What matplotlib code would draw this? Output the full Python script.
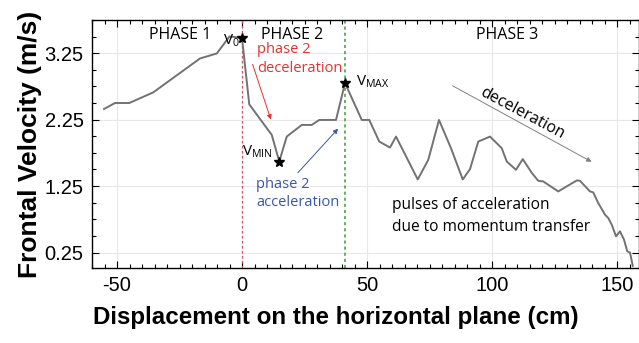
import matplotlib
matplotlib.use("Agg")
import matplotlib.pyplot as plt
from matplotlib.ticker import MultipleLocator, FixedLocator

plt.rcParams["font.family"] = ["Liberation Sans", "DejaVu Sans"]
plt.rcParams["mathtext.fontset"] = "custom"
plt.rcParams["mathtext.rm"] = "Open Sans"
plt.rcParams["axes.unicode_minus"] = False

# frontal velocity along the horizontal displacement
displacement = [-55.2, -50.8, -45.1, -35.5, -16.8, -10.1, -5.0, 0.0, 2.9, 11.9,
                14.9, 17.9, 23.9, 27.9, 30.9, 37.6, 41.2, 47.9, 50.9, 54.9,
                59.2, 61.6, 70.3, 74.5, 78.8, 83.6, 88.3, 91.2, 94.5, 99.2,
                103.9, 105.9, 109.6, 112.3, 115.9, 118.5, 120.5, 126.5, 133.9, 135.2,
                139.2, 140.5, 142.5, 145.2, 146.5, 147.9, 149.6, 151.2, 152.8, 154.1,
                155.2, 156.3]
velocity = [2.41, 2.50, 2.50, 2.66, 3.17, 3.245, 3.50, 3.48, 2.48, 2.02,
            1.62, 1.995, 2.17, 2.17, 2.245, 2.245, 2.80, 2.245, 2.245, 1.92,
            1.83, 1.995, 1.35, 1.645, 2.245, 1.82, 1.35, 1.505, 1.92, 1.995,
            1.82, 1.62, 1.495, 1.656, 1.45, 1.33, 1.32, 1.17, 1.335, 1.33,
            1.17, 1.155, 0.995, 0.82, 0.77, 0.67, 0.495, 0.57, 0.445, 0.27,
            0.25, 0.05]
key_points = [7, 10, 16]  # V0, VMIN, VMAX

phase2_start = 0
phase3_start = 41

x_ticks = [-50, 0, 50, 100, 150]
y_ticks = [0.25, 1.25, 2.25, 3.25]

fig = plt.figure(figsize=(6.39, 3.43), dpi=100)
ax = fig.add_axes([0.144, 0.219, 0.856, 0.723])

ax.plot(displacement, velocity, color="#727272", lw=1.4, zorder=3)
ax.plot([displacement[i] for i in key_points], [velocity[i] for i in key_points],
        ls="none", marker="*", ms=7, color="black", zorder=4)

ax.axvline(phase2_start, color="#d9506a", lw=0.9, ls=(0, (2, 2)), zorder=2)
ax.axvline(phase3_start, color="#3a9a3a", lw=1.1, ls=(0, (2, 2)), zorder=2)

ax.set_xlim(-60, 158.8)
ax.set_ylim(0.02, 3.75)
ax.xaxis.set_major_locator(FixedLocator(x_ticks))
ax.yaxis.set_major_locator(FixedLocator(y_ticks))
ax.xaxis.set_minor_locator(MultipleLocator(5))
ax.yaxis.set_minor_locator(MultipleLocator(0.25))
ax.tick_params(which="both", direction="in", top=True, right=True, width=0.8,
               labelsize=14.5, pad=6)
ax.tick_params(which="major", length=5)
ax.tick_params(which="minor", length=3)
ax.grid(True, which="major", color="#e8e8e8", lw=0.8, zorder=0)
for s in ax.spines.values():
    s.set_linewidth(1.0)

ax.set_xlabel("Displacement on the horizontal plane (cm)", fontsize=17.4,
              fontweight="bold")
ax.xaxis.set_label_coords(0.446, -0.155)
ax.set_ylabel("Frontal Velocity (m/s)", fontsize=19, fontweight="bold", labelpad=2)

ann = dict(family=["Open Sans", "DejaVu Sans"])
ax.text(-24.8, 3.52, "PHASE 1", fontsize=11.5, ha="center", va="center", **ann)
ax.text(20.2, 3.52, "PHASE 2", fontsize=11.5, ha="center", va="center", **ann)
ax.text(106, 3.52, "PHASE 3", fontsize=11.5, ha="center", va="center", **ann)

ax.text(-0.8, 3.44, r"$\mathrm{V_0}$", fontsize=11, ha="right", va="center")
ax.text(12.2, 1.76, r"$\mathrm{V_{MIN}}$", fontsize=11, ha="right", va="center")
ax.text(45.6, 2.82, r"$\mathrm{V_{MAX}}$", fontsize=11, ha="left", va="center")

ax.text(5.9, 3.16, "phase 2\ndeceleration", fontsize=10.5, color="#e8302f",
        ha="left", va="center", linespacing=1.32, **ann)
ax.annotate("", xy=(11.9, 2.21), xytext=(3.9, 3.12),
            arrowprops=dict(arrowstyle="-|>", color="#e8302f", lw=0.7,
                            mutation_scale=7))

ax.text(5.6, 1.14, "phase 2\nacceleration", fontsize=10.5, color="#3a58a8",
        ha="left", va="center", linespacing=1.32, **ann)
ax.annotate("", xy=(39.2, 2.145), xytext=(21.6, 1.42),
            arrowprops=dict(arrowstyle="-|>", color="#3a58a8", lw=0.7,
                            mutation_scale=7))

ax.text(111.9, 2.35, "deceleration", fontsize=11.5, rotation=-28,
        rotation_mode="anchor", ha="center", va="center", **ann)
ax.annotate("", xy=(140.8, 1.596), xytext=(83.2, 2.78),
            arrowprops=dict(arrowstyle="-|>", color="#808080", lw=0.7,
                            mutation_scale=7))

ax.text(59.9, 0.80, "pulses of acceleration\ndue to momentum transfer",
        fontsize=11.2, ha="left", va="center", linespacing=1.5, **ann)

fig.savefig("out.png", dpi=100)
